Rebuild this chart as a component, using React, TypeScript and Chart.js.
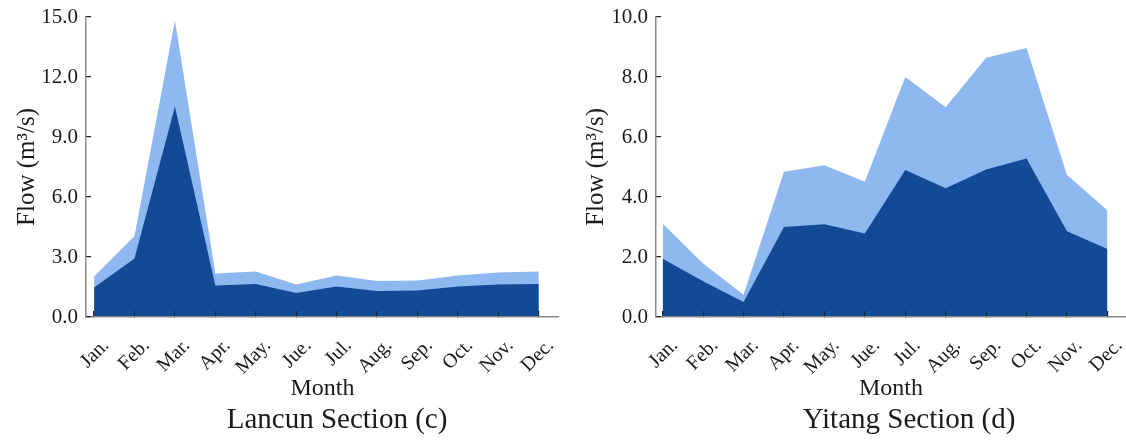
import React, { useEffect, useRef } from "react";
import { Chart, registerables } from "chart.js";

Chart.register(...registerables);

const months = ["Jan.", "Feb.", "Mar.", "Apr.", "May.", "Jue.", "Jul.", "Aug.", "Sep.", "Oct.", "Nov.", "Dec."];

const lancunBase = [1.47, 2.92, 10.53, 1.58, 1.65, 1.2, 1.53, 1.3, 1.33, 1.53, 1.63, 1.65];
const lancunTotal = [2.03, 4.05, 14.83, 2.17, 2.27, 1.63, 2.08, 1.8, 1.83, 2.07, 2.22, 2.28];
const yitangBase = [1.94, 1.19, 0.5, 3.0, 3.09, 2.78, 4.9, 4.29, 4.92, 5.28, 2.86, 2.27];
const yitangTotal = [3.11, 1.78, 0.74, 4.84, 5.06, 4.51, 8.0, 6.99, 8.64, 8.97, 4.73, 3.56];

const lancunTicks = [0, 3, 6, 9, 12, 15];
const yitangTicks = [0, 2, 4, 6, 8, 10];

const FONT = '"Liberation Serif", "Times New Roman", serif';
const DARK = "#134A96";
const LIGHT = "#8DB8F0";
const TEXT = "#1a1a1a";

const bottomTitle = {
  id: "bottomTitle",
  afterDraw(chart: any, _args: any, opts: any) {
    const ctx = chart.ctx;
    ctx.save();
    ctx.font = `29px ${FONT}`;
    ctx.fillStyle = TEXT;
    ctx.textAlign = "center";
    ctx.textBaseline = "alphabetic";
    ctx.fillText(opts.text, opts.x, opts.y);
    ctx.restore();
  },
};

const zeroPad = (s: any) => {
  s.paddingTop = 0;
  s.paddingBottom = 0;
  s.paddingLeft = 0;
  s.paddingRight = 0;
};

type PanelProps = {
  left: number;
  width: number;
  base: number[];
  total: number[];
  yMax: number;
  yTicks: number[];
  xMin: number;
  xMax: number;
  yAxisWidth: number;
  yTitlePad: number;
  padRight: number;
  title: string;
  titleX: number;
};

function Panel(p: PanelProps) {
  const ref = useRef<HTMLCanvasElement>(null);
  useEffect(() => {
    if (!ref.current) return;
    const chart = new Chart(ref.current, {
      type: "line",
      data: {
        datasets: [
          {
            data: p.base.map((v, i) => ({ x: i, y: v })),
            backgroundColor: DARK,
            borderWidth: 0,
            fill: "origin",
            pointRadius: 0,
          },
          {
            data: p.total.map((v, i) => ({ x: i, y: v })),
            backgroundColor: LIGHT,
            borderWidth: 0,
            fill: "origin",
            pointRadius: 0,
          },
        ],
      },
      plugins: [bottomTitle],
      options: {
        animation: false,
        responsive: false,
        layout: { padding: { left: 0, top: 17, right: p.padRight, bottom: 44 } },
        plugins: {
          legend: { display: false },
          tooltip: { enabled: false },
          bottomTitle: { text: p.title, x: p.titleX, y: 428 },
        } as any,
        scales: {
          x: {
            type: "linear",
            min: p.xMin,
            max: p.xMax,
            afterBuildTicks: (s: any) => {
              s.ticks = months.map((_, i) => ({ value: i }));
            },
            afterFit: (s: any) => {
              s.height = 86;
              zeroPad(s);
            },
            grid: {
              drawOnChartArea: false,
              drawTicks: true,
              tickLength: -6,
              color: "#222",
              lineWidth: 1.2,
              z: 1,
            },
            border: { display: true, color: "#8a8a8a", width: 1.5, z: 1 },
            ticks: {
              autoSkip: false,
              minRotation: 45,
              maxRotation: 45,
              padding: 23,
              labelOffset: 12,
              color: TEXT,
              font: { family: FONT, size: 20 },
              callback: (v: any) => months[Math.round(Number(v))] ?? "",
            },
            title: {
              display: true,
              text: "Month",
              color: TEXT,
              font: { family: FONT, size: 24 },
              padding: { top: 0, bottom: 0 },
            },
          },
          y: {
            min: 0,
            max: p.yMax,
            afterBuildTicks: (s: any) => {
              s.ticks = p.yTicks.map((v) => ({ value: v }));
            },
            afterFit: (s: any) => {
              s.width = p.yAxisWidth;
              zeroPad(s);
            },
            grid: {
              drawOnChartArea: false,
              drawTicks: true,
              tickLength: -5,
              color: "#222",
              lineWidth: 1.2,
              z: 1,
            },
            border: { display: true, color: "#8a8a8a", width: 1.5, z: 1 },
            ticks: {
              padding: 13,
              color: TEXT,
              font: { family: FONT, size: 21 },
              callback: (v: any) => Number(v).toFixed(1),
            },
            title: {
              display: true,
              text: "Flow (m³/s)",
              color: TEXT,
              font: { family: FONT, size: 25 },
              padding: { top: p.yTitlePad, bottom: 0 },
            },
          },
        },
      } as any,
    });
    return () => chart.destroy();
  }, []);
  return (
    <div style={{ position: "absolute", left: p.left, top: 0, width: p.width, height: 447 }}>
      <canvas ref={ref} width={p.width} height={447} style={{ display: "block" }} />
    </div>
  );
}

export default function App() {
  return (
    <div style={{ position: "absolute", left: 0, top: 0, width: 1126, height: 447, background: "#fff" }}>
      <Panel
        left={0}
        width={565}
        base={lancunBase}
        total={lancunTotal}
        yMax={15}
        yTicks={lancunTicks}
        xMin={-0.2}
        xMax={11.5}
        yAxisWidth={86}
        yTitlePad={12}
        padRight={6}
        title="Lancun Section (c)"
        titleX={337}
      />
      <Panel
        left={565}
        width={561}
        base={yitangBase}
        total={yitangTotal}
        yMax={10}
        yTicks={yitangTicks}
        xMin={-0.166}
        xMax={11.46}
        yAxisWidth={91}
        yTitlePad={16}
        padRight={0}
        title="Yitang Section (d)"
        titleX={344}
      />
    </div>
  );
}
